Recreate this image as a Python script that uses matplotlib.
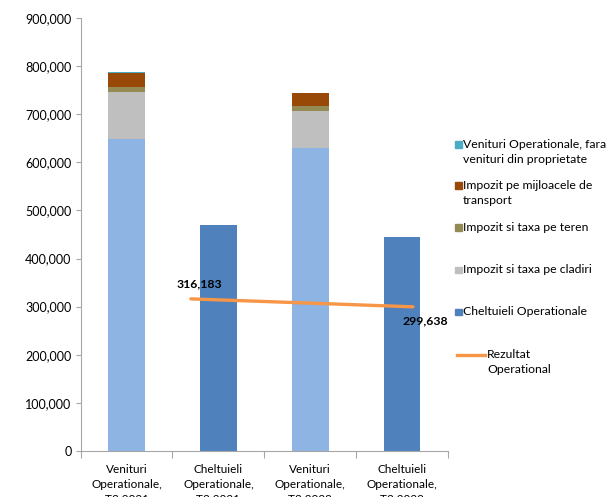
import matplotlib
matplotlib.use("Agg")
import matplotlib.pyplot as plt
from matplotlib.ticker import FuncFormatter
from matplotlib.lines import Line2D
from matplotlib.patches import Rectangle
import numpy as np

plt.rcParams['font.family'] = ['Lato', 'DejaVu Sans']

categories = ["Venituri\nOperationale,\nT3 2021", "Cheltuieli\nOperationale,\nT3 2021",
              "Venituri\nOperationale,\nT3 2022", "Cheltuieli\nOperationale,\nT3 2022"]

# stacked revenue components (only revenue columns have values)
venituri_baza = [647500, 0, 629800, 0]
impozit_cladiri = [98100, 0, 77500, 0]
impozit_teren = [11600, 0, 9800, 0]
impozit_transport = [29100, 0, 26400, 0]
venituri_fara_propr = [2000, 0, 0, 0]
cheltuieli = [0, 469800, 0, 444800]

rezultat = [316183, 299638]
rezultat_labels = ["316,183", "299,638"]
rezultat_pos = [0.70, 3.12]

c_base = "#8DB4E2"
c_clad = "#BFBFBF"
c_teren = "#948A54"
c_transp = "#984807"
c_fara = "#4BACC6"
c_chelt = "#4F81BD"
c_line = "#F79646"

W, H = 609, 497
fig = plt.figure(figsize=(W / 100, H / 100), dpi=100)
ax = fig.add_axes([0.1325, 0.0926, 0.6030, 0.8712])

x = np.arange(len(categories))
w = 0.40
bottom = np.zeros(len(categories))
for vals, col in [(venituri_baza, c_base), (impozit_cladiri, c_clad), (impozit_teren, c_teren),
                  (impozit_transport, c_transp), (venituri_fara_propr, c_fara), (cheltuieli, c_chelt)]:
    v = np.array(vals, dtype=float)
    ax.bar(x, v, w, bottom=bottom, color=col, edgecolor='none', zorder=2)
    bottom += v

ax.plot(rezultat_pos, rezultat, color=c_line, lw=2.4, zorder=3, solid_capstyle='round')
ax.annotate(rezultat_labels[0], (rezultat_pos[0], rezultat[0]), xytext=(9, 15),
            textcoords='offset pixels', fontsize=8.8, fontweight='bold', ha='center', va='center')
ax.annotate(rezultat_labels[1], (rezultat_pos[1], rezultat[1]), xytext=(12, -14),
            textcoords='offset pixels', fontsize=8.8, fontweight='bold', ha='center', va='center')

ax.set_xlim(-0.5, 3.5)
ax.set_ylim(0, 900000)
ax.set_yticks(np.arange(0, 900001, 100000))
ax.yaxis.set_major_formatter(FuncFormatter(lambda v, p: f"{int(v):,}"))
ax.tick_params(axis='y', labelsize=9, length=3.5, color='#A6A6A6', pad=3)
ax.set_xticks(np.arange(-0.5, 3.6, 1.0))
ax.set_xticklabels([])
ax.tick_params(axis='x', length=5, color='#A6A6A6')
for i, lab in enumerate(categories):
    ax.annotate(lab, (i, 0), xytext=(0, -13), textcoords='offset pixels', ha='center', va='top',
                fontsize=8.5, linespacing=1.45, annotation_clip=False)

for s in ['top', 'right']:
    ax.spines[s].set_visible(False)
ax.spines['left'].set_color('#A6A6A6')
ax.spines['bottom'].set_color('#A6A6A6')

# legend drawn manually to reproduce the evenly spaced entries
legend_items = [
    ("patch", c_fara, "Venituri Operationale, fara\nvenituri din proprietate", 144.5),
    ("patch", c_transp, "Impozit pe mijloacele de\ntransport", 186),
    ("patch", c_teren, "Impozit si taxa pe teren", 228),
    ("patch", c_clad, "Impozit si taxa pe cladiri", 270),
    ("patch", c_chelt, "Cheltuieli Operationale", 312),
    ("line", c_line, "Rezultat\nOperational", 355),
]
for kind, col, lab, py in legend_items:
    fy = 1 - py / H
    if kind == "patch":
        fig.add_artist(Rectangle((455 / W, fy - 3 / H), 6.5 / W, 6.5 / H, color=col,
                                 transform=fig.transFigure))
        tx = 463
    else:
        fig.add_artist(Line2D([457 / W, 485 / W], [fy, fy], color=col, lw=2.4,
                              transform=fig.transFigure))
        tx = 487
    fig.text(tx / W, fy + 6 / H, lab, ha='left', va='top', fontsize=8.8, linespacing=1.45)

fig.savefig("out.png", dpi=100)
